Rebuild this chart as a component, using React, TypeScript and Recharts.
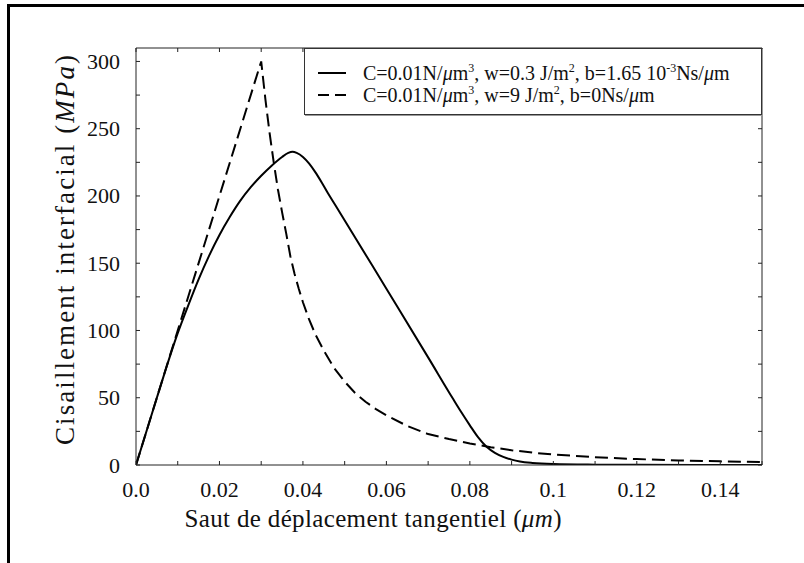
import React from 'react';
import { LineChart, Line, XAxis, YAxis, Legend } from 'recharts';

const FONT = '"Liberation Serif", "DejaVu Serif", serif';

// Solid series: C=0.01, w=0.3, b=1.65e-3
const solidX = [0, 0.005, 0.01, 0.0125, 0.015, 0.0175, 0.02, 0.0225, 0.025, 0.0275, 0.03, 0.0325, 0.035, 0.0365, 0.0375, 0.0385, 0.04, 0.0415, 0.043, 0.0445, 0.046, 0.048, 0.06, 0.07, 0.076, 0.078, 0.08, 0.082, 0.084, 0.086, 0.088, 0.09, 0.092, 0.095, 0.1, 0.11, 0.12, 0.15];
const solidY = [0, 50, 98, 118.5, 138, 155.5, 171, 184.5, 196.5, 206.5, 215, 222.5, 229, 232, 232.8, 232, 229, 224, 217.5, 210, 202, 192, 131, 80, 49, 39, 29.5, 20.5, 13.5, 9, 6, 4, 2.6, 1.5, 0.7, 0.25, 0.1, 0];

// Dashed series: C=0.01, w=9, b=0
const dashedX = [0, 0.03, 0.031, 0.032, 0.033, 0.034, 0.035, 0.036, 0.037, 0.038, 0.039, 0.04, 0.0415, 0.043, 0.045, 0.0475, 0.05, 0.0525, 0.055, 0.0575, 0.06, 0.065, 0.07, 0.075, 0.08, 0.085, 0.09, 0.095, 0.1, 0.11, 0.12, 0.13, 0.14, 0.15];
const dashedY = [0, 300, 272, 247, 225, 205, 188, 172, 155, 142, 131, 121, 108, 97, 85, 72, 62, 53.5, 47, 41.5, 37, 29, 23, 19.3, 16, 13.2, 11, 9.2, 7.8, 5.8, 4.4, 3.4, 2.7, 2.2];

const xMajorTicks = [0, 0.02, 0.04, 0.06, 0.08, 0.1, 0.12, 0.14];
const xMajorLabels = ['0.0', '0.02', '0.04', '0.06', '0.08', '0.1', '0.12', '0.14'];
const xMinorTicks = [0.01, 0.03, 0.05, 0.07, 0.09, 0.11, 0.13, 0.15];
const yMajorTicks = [0, 50, 100, 150, 200, 250, 300];
const yMajorLabels = ['0', '50', '100', '150', '200', '250', '300'];
const yMinorTicks = [25, 75, 125, 175, 225, 275];

const xAllTicks = [...xMajorTicks, ...xMinorTicks].sort((a, b) => a - b);
const yAllTicks = [...yMajorTicks, ...yMinorTicks].sort((a, b) => a - b);

const solidData = solidX.map((x, i) => ({ x, y: solidY[i] }));
const dashedData = dashedX.map((x, i) => ({ x, y: dashedY[i] }));

const AX = '#222';
const TICK = 4;

const findIdx = (arr: number[], v: number) => arr.findIndex((t) => Math.abs(t - v) < 1e-9);

const BottomTick = (props: any) => {
  const { x, y, payload } = props;
  const i = findIdx(xMajorTicks, payload.value);
  return (
    <g>
      <line x1={x} x2={x} y1={y} y2={y - TICK} stroke={AX} strokeWidth={1} />
      {i >= 0 && (
        <text x={x} y={y + 32} textAnchor="middle" fontSize={22} fontFamily={FONT} fill="#111">
          {xMajorLabels[i]}
        </text>
      )}
    </g>
  );
};

const TopTick = (props: any) => {
  const { x, y } = props;
  return <line x1={x} x2={x} y1={y} y2={y + TICK} stroke={AX} strokeWidth={1} />;
};

const LeftTick = (props: any) => {
  const { x, y, payload } = props;
  const i = findIdx(yMajorTicks, payload.value);
  return (
    <g>
      <line x1={x} x2={x + TICK} y1={y} y2={y} stroke={AX} strokeWidth={1} />
      {i >= 0 && (
        <text x={x - 16} y={y + 7.5} textAnchor="end" fontSize={22} fontFamily={FONT} fill="#111">
          {yMajorLabels[i]}
        </text>
      )}
    </g>
  );
};

const RightTick = (props: any) => {
  const { x, y } = props;
  return <line x1={x} x2={x - TICK} y1={y} y2={y} stroke={AX} strokeWidth={1} />;
};

const XLabel = () => (
  <text
    x={373}
    y={527}
    textAnchor="middle"
    fontSize={25}
    fontFamily={FONT}
    fill="#111"
    textLength={377}
    lengthAdjust="spacing"
  >
    Saut de déplacement tangentiel (<tspan fontStyle="italic">μm</tspan>)
  </text>
);

const YLabel = () => (
  <text
    x={0}
    y={0}
    transform="translate(74, 250) rotate(-90)"
    textAnchor="middle"
    fontSize={27}
    fontFamily={FONT}
    fill="#111"
    textLength={390}
    lengthAdjust="spacing"
  >
    Cisaillement interfacial (<tspan fontStyle="italic">MPa</tspan>)
  </text>
);

const sup = (s: string) => (
  <span style={{ fontSize: 12, position: 'relative', top: -8, lineHeight: 1 }}>{s}</span>
);
const mu = <span style={{ fontStyle: 'italic' }}>μ</span>;

const seriesNames = [
  'C=0.01N/μm3, w=0.3 J/m2, b=1.65 10-3Ns/μm',
  'C=0.01N/μm3, w=9 J/m2, b=0Ns/μm',
];

const legendTexts = [
  <>
    C=0.01N/{mu}m{sup('3')}, w=0.3 J/m{sup('2')}, b=1.65 10{sup('-3')}Ns/{mu}m
  </>,
  <>
    C=0.01N/{mu}m{sup('3')}, w=9 J/m{sup('2')}, b=0Ns/{mu}m
  </>,
];

const renderLegend = () => (
  <div
    style={{
      boxSizing: 'border-box',
      width: 458,
      height: 67,
      border: '1px solid #333',
      boxShadow: '1px 1px 0 #999',
      background: '#fff',
      fontFamily: FONT,
      fontSize: 20,
      color: '#111',
      paddingTop: 13,
    }}
  >
    {legendTexts.map((t, i) => (
      <div key={i} style={{ display: 'flex', alignItems: 'center', height: 22, lineHeight: '20px', whiteSpace: 'nowrap' }}>
        <svg width={28} height={4} style={{ marginLeft: 13, marginRight: 17, flexShrink: 0 }}>
          <line
            x1={0}
            x2={28}
            y1={2}
            y2={2}
            stroke="#000"
            strokeWidth={2}
            strokeDasharray={i === 1 ? '11 6' : undefined}
          />
        </svg>
        <span>{t}</span>
      </div>
    ))}
  </div>
);

export default function App() {
  return (
    <div style={{ position: 'absolute', left: 0, top: 0, width: 804, height: 563, background: '#fff' }}>
      <div
        style={{
          position: 'absolute',
          left: 7,
          top: 4,
          width: 797,
          height: 559,
          borderTop: '3px solid #000',
          borderLeft: '3px solid #000',
          boxSizing: 'border-box',
        }}
      />
      <div style={{ position: 'absolute', left: 0, top: 0 }}>
        <LineChart width={804} height={563} margin={{ top: 47, right: 41, bottom: 97, left: 135 }}>
          <XAxis
            xAxisId="b"
            dataKey="x"
            type="number"
            domain={[0, 0.15]}
            ticks={xAllTicks}
            interval={0}
            height={1}
            tickSize={0}
            tickMargin={0}
            tickLine={false}
            tick={<BottomTick />}
            axisLine={{ stroke: AX, strokeWidth: 1 }}
            allowDataOverflow
            label={{ content: () => <XLabel /> }}
          />
          <XAxis
            xAxisId="t"
            orientation="top"
            dataKey="x"
            type="number"
            domain={[0, 0.15]}
            ticks={xAllTicks}
            interval={0}
            height={1}
            tickSize={0}
            tickMargin={0}
            tickLine={false}
            tick={<TopTick />}
            axisLine={{ stroke: AX, strokeWidth: 1 }}
            allowDataOverflow
          />
          <YAxis
            yAxisId="l"
            type="number"
            domain={[0, 310]}
            ticks={yAllTicks}
            interval={0}
            width={1}
            tickSize={0}
            tickMargin={0}
            tickLine={false}
            tick={<LeftTick />}
            axisLine={{ stroke: AX, strokeWidth: 1 }}
            allowDataOverflow
            label={{ content: () => <YLabel /> }}
          />
          <YAxis
            yAxisId="r"
            orientation="right"
            type="number"
            domain={[0, 310]}
            ticks={yAllTicks}
            interval={0}
            width={1}
            tickSize={0}
            tickMargin={0}
            tickLine={false}
            tick={<RightTick />}
            axisLine={{ stroke: AX, strokeWidth: 1 }}
            allowDataOverflow
          />
          <Line
            xAxisId="b"
            yAxisId="l"
            data={solidData}
            dataKey="y"
            name={seriesNames[0]}
            type="monotone"
            stroke="#000"
            strokeWidth={2}
            dot={false}
            activeDot={false}
            isAnimationActive={false}
          />
          <Line
            xAxisId="b"
            yAxisId="l"
            data={dashedData}
            dataKey="y"
            name={seriesNames[1]}
            type="linear"
            stroke="#000"
            strokeWidth={2}
            strokeDasharray="13 6"
            dot={false}
            activeDot={false}
            isAnimationActive={false}
          />
          <Line
            xAxisId="t"
            yAxisId="r"
            data={solidData}
            dataKey="y"
            type="monotone"
            stroke="none"
            dot={false}
            activeDot={false}
            legendType="none"
            isAnimationActive={false}
          />
          <Legend
            layout="vertical"
            verticalAlign="middle"
            align="center"
            content={renderLegend}
            wrapperStyle={{ position: 'absolute', left: 304, top: 48, width: 458, height: 67 }}
          />
        </LineChart>
      </div>
    </div>
  );
}
